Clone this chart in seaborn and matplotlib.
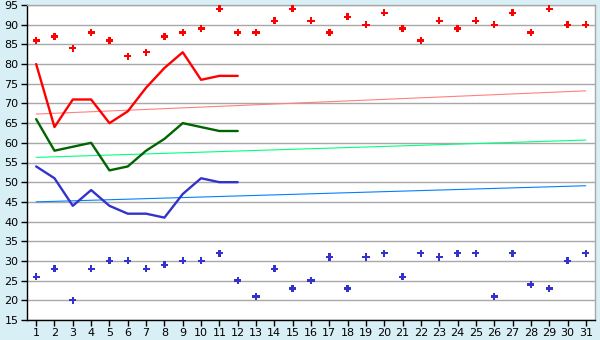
import matplotlib
matplotlib.use("Agg")
import matplotlib.pyplot as plt
import seaborn as sns
import pandas as pd
import numpy as np

days = list(range(1, 32))
red_marks = [86, 87, 84, 88, 86, 82, 83, 87, 88, 89, 94, 88, 88, 91, 94,
             91, 88, 92, 90, 93, 89, 86, 91, 89, 91, 90, 93, 88, 94, 90, 90]
blue_marks = [26, 28, 20, 28, 30, 30, 28, 29, 30, 30, 32, 25, 21, 28, 23,
              25, 31, 23, 31, 32, 26, 32, 31, 32, 32, 21, 32, 24, 23, 30, 32]
line_days = list(range(1, 13))
red_line = [80, 64, 71, 71, 65, 68, 74, 79, 83, 76, 77, 77]
green_line = [66, 58, 59, 60, 53, 54, 58, 61, 65, 64, 63, 63]
blue_line = [54, 51, 44, 48, 44, 42, 42, 41, 47, 51, 50, 50]
trend_days = [1, 31]
red_trend = [67.3, 73.2]
green_trend = [56.3, 60.7]
blue_trend = [45.0, 49.1]
y_ticks = list(range(15, 100, 5))

sns.set_theme(style="white")
plt.rcParams['font.family'] = ['DejaVu Sans']

fig = plt.figure(figsize=(6, 3.4), dpi=100)
fig.patch.set_facecolor('#D9EFF6')
ax = fig.add_axes([27/600, 20/340, 568/600, 315/340])
ax.set_facecolor('white')

for y in y_ticks:
    ax.axhline(y, color='#A8A8A8', lw=1.0, zorder=0)

sns.lineplot(x=trend_days, y=red_trend, ax=ax, color='#FF8080', lw=0.8)
sns.lineplot(x=trend_days, y=green_trend, ax=ax, color='#00FF80', lw=0.8)
sns.lineplot(x=trend_days, y=blue_trend, ax=ax, color='#0080FF', lw=0.8)

sns.lineplot(x=line_days, y=red_line, ax=ax, color='#FF0000', lw=1.7)
sns.lineplot(x=line_days, y=green_line, ax=ax, color='#006400', lw=1.7)
sns.lineplot(x=line_days, y=blue_line, ax=ax, color='#3333CC', lw=1.7)

sns.scatterplot(x=days, y=red_marks, ax=ax, color='#FF0000', marker='P', s=26,
                edgecolor='none', zorder=5)
sns.scatterplot(x=days, y=blue_marks, ax=ax, color='#3333CC', marker='P', s=26,
                edgecolor='none', zorder=5)

ax.set_xlim(0.5, 31.5)
ax.set_ylim(15, 95)
ax.set_xticks(days)
ax.set_xticklabels([str(d) for d in days])
ax.set_yticks(y_ticks)
ax.tick_params(axis='both', labelsize=8, length=4, width=1, colors='black',
               direction='out', pad=2)
ax.tick_params(axis='x', bottom=True)
ax.tick_params(axis='y', left=True)
for s in ['left', 'bottom']:
    ax.spines[s].set_color('black')
    ax.spines[s].set_linewidth(1)
for s in ['top', 'right']:
    ax.spines[s].set_color('#A8A8A8')
    ax.spines[s].set_linewidth(1)
ax.set_xlabel('')
ax.set_ylabel('')

fig.savefig('out.png', dpi=100, facecolor=fig.get_facecolor())
